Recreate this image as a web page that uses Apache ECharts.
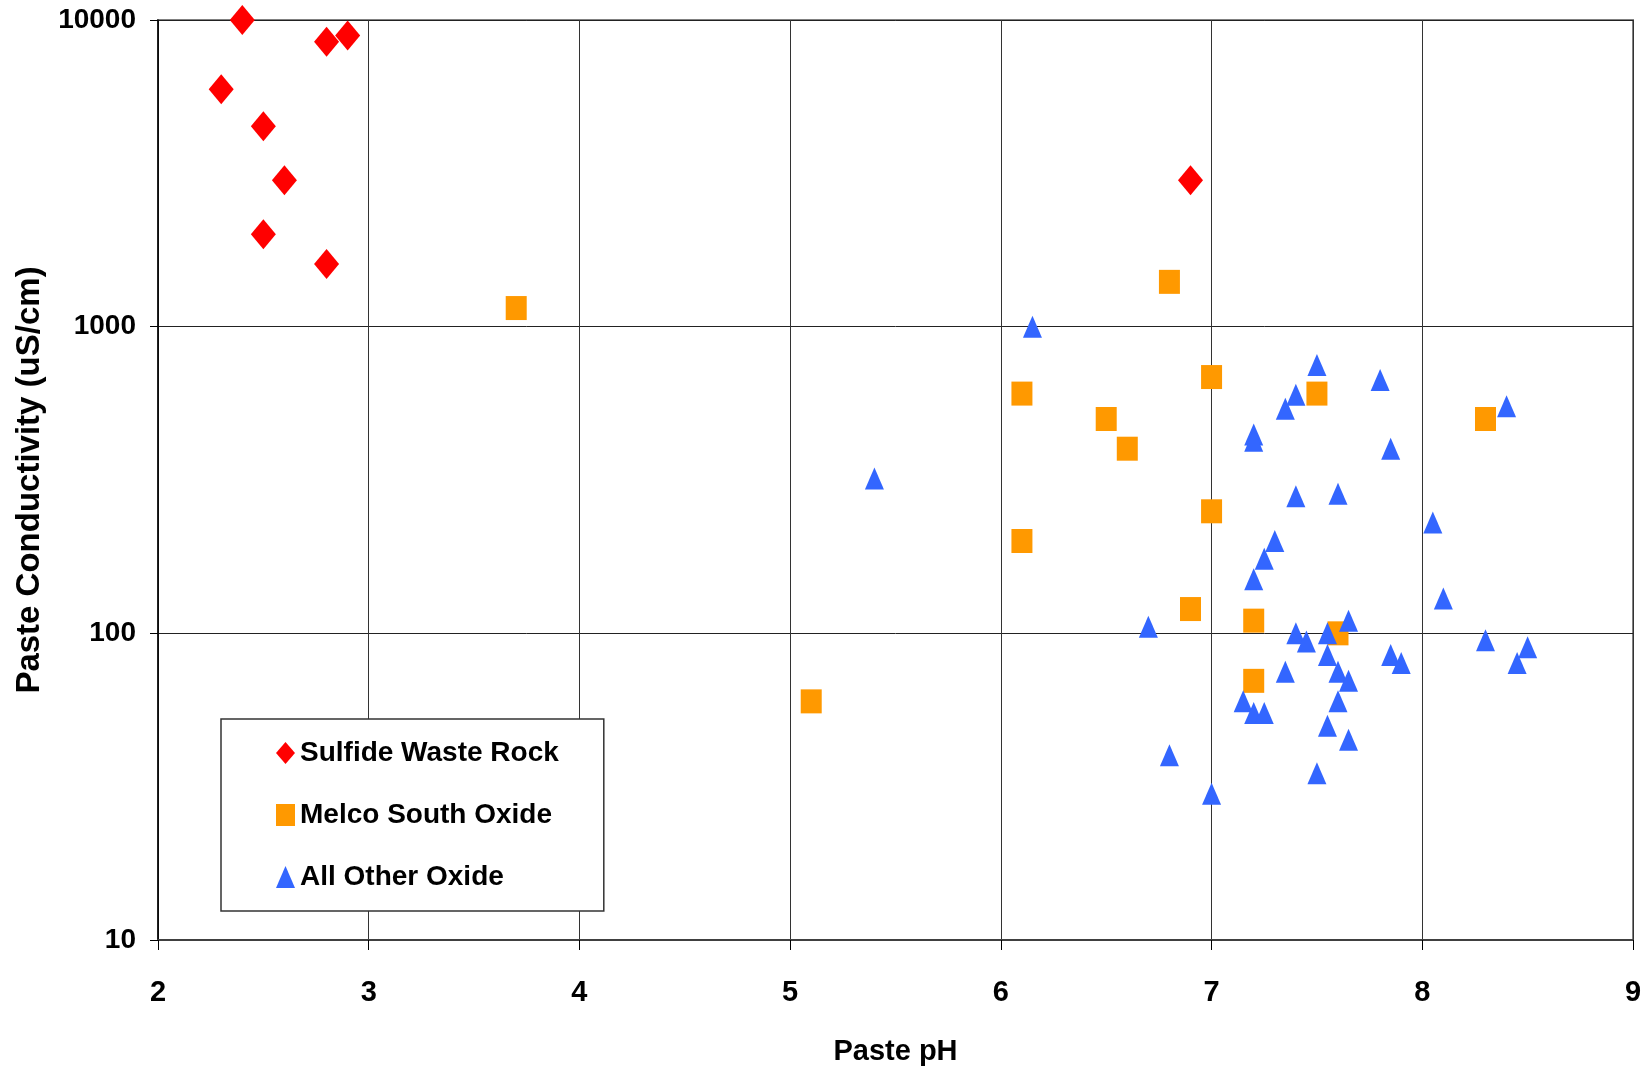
<!DOCTYPE html>
<html>
<head>
<meta charset="utf-8">
<script src="https://cdn.jsdelivr.net/npm/echarts@6/dist/echarts.min.js"></script>
<style>
html,body{margin:0;padding:0;background:#fff;}
#chart{width:1648px;height:1072px;}
</style>
</head>
<body>
<div id="chart"></div>
<script>
// ---- data ----
const seriesNames = ['Sulfide Waste Rock', 'Melco South Oxide', 'All Other Oxide'];

const sulfidePH   = [2.4, 2.9, 2.8, 2.3, 2.5, 2.6, 2.5, 2.8, 6.9];
const sulfideCond = [10000, 8900, 8500, 5950, 4500, 3000, 2000, 1600, 3000];

const melcoPH   = [3.7, 6.8, 6.1, 7.0, 6.5, 6.6, 7.5, 8.3, 7.0, 6.1, 6.9, 7.2, 7.6, 7.2, 5.1];
const melcoCond = [1150, 1400, 605, 685, 500, 400, 605, 500, 250, 200, 120, 110, 100, 70, 60];

const otherPH   = [6.15, 5.4, 7.5, 7.8, 7.4, 7.35, 8.4, 7.2, 7.2, 7.85, 7.4, 7.6, 8.05, 7.3, 7.25, 7.2, 8.1,
                   6.7, 7.65, 7.4, 7.55, 7.45, 8.3, 8.5, 7.55, 7.85, 7.9, 8.45, 7.35, 7.6, 7.65, 7.15, 7.6,
                   7.2, 7.25, 7.55, 7.65, 6.8, 7.5, 7.0];
const otherCond = [1000, 320, 750, 670, 600, 540, 550, 445, 425, 400, 280, 285, 230, 200, 175, 150, 130,
                   105, 110, 100, 100, 94, 95, 90, 85, 85, 80, 80, 75, 75, 70, 60, 60,
                   55, 55, 50, 45, 40, 35, 30];

const xTickLabels = ['2', '3', '4', '5', '6', '7', '8', '9'];
const yTickLabels = ['10', '100', '1000', '10000'];

const zip = (xs, ys) => xs.map((x, i) => [x, ys[i]]);

const FONT = '"Liberation Sans", Arial, sans-serif';

const chart = echarts.init(document.getElementById('chart'), null, {renderer: 'canvas'});

chart.setOption({
  animation: false,
  backgroundColor: '#ffffff',
  grid: {
    left: 158, right: 15, top: 20, bottom: 132,
    show: true, borderColor: '#808080', borderWidth: 2, backgroundColor: 'transparent'
  },
  xAxis: {
    type: 'value', min: 2, max: 9, interval: 1,
    name: 'Paste pH', nameLocation: 'middle', nameGap: 97,
    nameTextStyle: {fontFamily: FONT, fontWeight: 'bold', fontSize: 29, color: '#000'},
    axisLine: {show: true, onZero: false, lineStyle: {color: '#404040', width: 2}},
    axisTick: {show: true, inside: false, length: 10, lineStyle: {color: '#000', width: 1}},
    splitLine: {show: true, lineStyle: {color: '#333', width: 1}},
    axisLabel: {
      margin: 38, fontFamily: FONT, fontWeight: 'bold', fontSize: 29, color: '#000',
      formatter: v => xTickLabels[Math.round(v) - 2]
    }
  },
  yAxis: {
    type: 'log', logBase: 10, min: 10, max: 10000,
    name: 'Paste Conductivity (uS/cm)', nameLocation: 'middle', nameGap: 112, nameRotate: 90,
    nameTextStyle: {fontFamily: FONT, fontWeight: 'bold', fontSize: 33, color: '#000'},
    axisLine: {show: true, lineStyle: {color: '#000', width: 1.5}},
    axisTick: {show: true, inside: false, length: 8, lineStyle: {color: '#000', width: 1}},
    splitLine: {show: true, lineStyle: {color: '#222', width: 1}},
    minorTick: {show: false},
    axisLabel: {
      margin: 22, fontFamily: FONT, fontWeight: 'bold', fontSize: 28, color: '#000',
      formatter: v => yTickLabels[Math.round(Math.log10(v)) - 1]
    }
  },
  legend: {
    orient: 'vertical',
    left: 221, top: 719,
    padding: [20, 45, 20, 55],
    itemGap: 34,
    itemWidth: 19, itemHeight: 22,
    borderColor: '#333', borderWidth: 1.5, backgroundColor: '#fff',
    textStyle: {fontFamily: FONT, fontWeight: 'bold', fontSize: 28, color: '#000'},
    data: [
      {name: seriesNames[0], icon: 'diamond'},
      {name: seriesNames[1], icon: 'rect'},
      {name: seriesNames[2], icon: 'triangle'}
    ]
  },
  series: [
    {
      name: seriesNames[0], type: 'scatter', symbol: 'diamond', symbolSize: [25, 30],
      itemStyle: {color: '#FF0000', opacity: 1}, data: zip(sulfidePH, sulfideCond)
    },
    {
      name: seriesNames[1], type: 'scatter', symbol: 'rect', symbolSize: [21, 24],
      itemStyle: {color: '#FF9900', opacity: 1}, data: zip(melcoPH, melcoCond)
    },
    {
      name: seriesNames[2], type: 'scatter', symbol: 'triangle', symbolSize: [19, 22],
      itemStyle: {color: '#3366FF', opacity: 1}, data: zip(otherPH, otherCond)
    }
  ]
});
</script>
</body>
</html>
